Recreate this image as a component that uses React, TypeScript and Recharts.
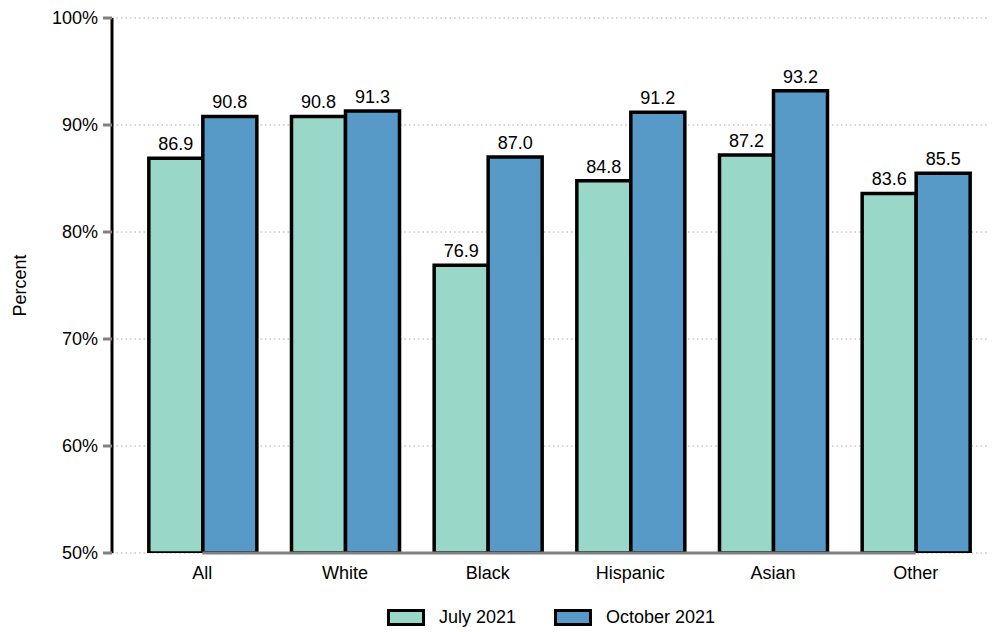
import React from 'react';
import { BarChart, Bar, XAxis, YAxis, CartesianGrid, Legend, LabelList, ReferenceLine } from 'recharts';

const categories = ['All', 'White', 'Black', 'Hispanic', 'Asian', 'Other'];
const july2021 = [86.9, 90.8, 76.9, 84.8, 87.2, 83.6];
const october2021 = [90.8, 91.3, 87.0, 91.2, 93.2, 85.5];
const yTicks = [50, 60, 70, 80, 90, 100];

const data = categories.map((name, i) => ({ name, july: july2021[i], october: october2021[i] }));

const FONT = '"Liberation Sans", Arial, sans-serif';
const TEAL = '#99d8c9';
const BLUE = '#5799c7';

function LegendBox() {
  const item = (color: string, label: string, gap: number) => (
    <div style={{ display: 'flex', alignItems: 'center', marginRight: gap }}>
      <div style={{ width: 38, height: 17, boxSizing: 'border-box', border: '3.5px solid #000', background: color, marginRight: 14 }} />
      <span style={{ fontSize: 18, color: '#000', fontFamily: FONT }}>{label}</span>
    </div>
  );
  return (
    <div style={{ display: 'flex', alignItems: 'center', height: 30 }}>
      {item(TEAL, 'July 2021', 38)}
      {item(BLUE, 'October 2021', 0)}
    </div>
  );
}

export default function App() {
  return (
    <div style={{ position: 'absolute', left: 0, top: 0, fontFamily: FONT }}>
      <BarChart
        width={992}
        height={632}
        data={data}
        margin={{ top: 18, right: 5, bottom: 19, left: 48 }}
        barCategoryGap="12.5%"
        barGap={0}
      >
        <CartesianGrid vertical={false} stroke="#aaa" strokeDasharray="1.5 3" />
        <XAxis
          dataKey="name"
          height={30}
          padding={{ left: 19, right: 0 }}
          axisLine={false}
          tickLine={false}
          tickMargin={7}
          tick={{ fill: '#000', fontSize: 18, fontFamily: FONT }}
        />
        <YAxis
          width={64}
          domain={[50, 100]}
          ticks={yTicks}
          allowDataOverflow
          tickFormatter={(v) => `${v}%`}
          axisLine={{ stroke: '#000', strokeWidth: 3 }}
          tickLine={{ stroke: '#808080', strokeWidth: 3 }}
          tickSize={9}
          tickMargin={5}
          tick={{ fill: '#000', fontSize: 18, fontFamily: FONT }}
          label={{ value: 'Percent', angle: -90, position: 'insideLeft', offset: -28, fill: '#000', fontSize: 18, fontFamily: FONT, style: { textAnchor: 'middle' } }}
        />
        <Legend verticalAlign="bottom" content={() => <LegendBox />} wrapperStyle={{ left: 387, width: 500, bottom: 0 }} />
        <Bar dataKey="july" name="July 2021" fill={TEAL} stroke="#000" strokeWidth={3.5} isAnimationActive={false}>
          <LabelList dataKey="july" position="top" offset={8} fill="#000" fontSize={18} fontFamily={FONT} formatter={(v: any) => Number(v).toFixed(1)} />
        </Bar>
        <Bar dataKey="october" name="October 2021" fill={BLUE} stroke="#000" strokeWidth={3.5} isAnimationActive={false}>
          <LabelList dataKey="october" position="top" offset={8} fill="#000" fontSize={18} fontFamily={FONT} formatter={(v: any) => Number(v).toFixed(1)} />
        </Bar>
        <ReferenceLine segment={[{ x: 'All', y: 50 }, { x: 'Other', y: 50 }]} stroke="#808080" strokeWidth={3} />
      </BarChart>
    </div>
  );
}
